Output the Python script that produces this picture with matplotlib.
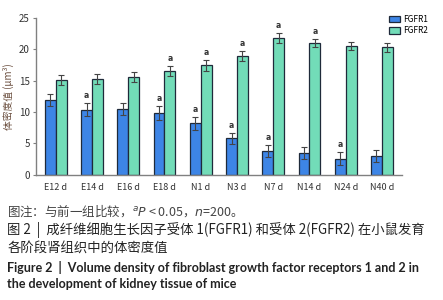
import numpy as np
import matplotlib.pyplot as plt

plt.rcParams['font.family'] = ['Noto Sans CJK SC', 'DejaVu Sans']

groups = ["E12 d", "E14 d", "E16 d", "E18 d", "N1 d", "N3 d", "N7 d", "N14 d", "N24 d", "N40 d"]
fgfr1 = [11.9, 10.4, 10.5, 9.8, 8.2, 5.8, 3.8, 3.5, 2.6, 3.0]
fgfr1_err = [1.0, 1.0, 1.0, 1.1, 1.0, 0.9, 0.9, 0.9, 1.0, 1.0]
fgfr2 = [15.1, 15.3, 15.6, 16.5, 17.4, 18.9, 21.8, 21.0, 20.5, 20.3]
fgfr2_err = [0.8, 0.8, 0.8, 0.8, 0.8, 0.8, 0.8, 0.6, 0.7, 0.7]
sig1 = [False, True, False, True, True, True, True, False, True, False]
sig2 = [False, False, False, True, True, True, True, True, False, False]

fig = plt.figure(figsize=(4.43, 3.0), dpi=100)
ax = fig.add_axes([0.081, 0.417, 0.826, 0.524])

x = np.arange(len(groups))
w = 0.3
ekw = dict(ecolor="#444444", elinewidth=0.8, capsize=2, capthick=0.8)
ax.bar(x - w / 2, fgfr1, w, yerr=fgfr1_err, color="#3d85e6", edgecolor="#1f2a3a",
       linewidth=0.9, label="FGFR1", error_kw=ekw)
ax.bar(x + w / 2, fgfr2, w, yerr=fgfr2_err, color="#72dcb8", edgecolor="#1f2a3a",
       linewidth=0.9, label="FGFR2", error_kw=ekw)

for i in range(len(groups)):
    if sig1[i]:
        ax.text(x[i] - w / 2, fgfr1[i] + fgfr1_err[i] + 0.5, "a", ha="center", va="bottom",
                fontsize=5.5, fontweight="bold", color="#333333", family="DejaVu Sans")
    if sig2[i]:
        ax.text(x[i] + w / 2, fgfr2[i] + fgfr2_err[i] + 0.5, "a", ha="center", va="bottom",
                fontsize=5.5, fontweight="bold", color="#333333", family="DejaVu Sans")

ax.set_xlim(-0.55, 9.55)
ax.set_ylim(0, 25)
ax.set_yticks([0, 5, 10, 15, 20, 25])
ax.set_xticks(x)
ax.set_xticklabels(groups)
ax.tick_params(axis="x", length=0, labelsize=6.5, colors="#333333", pad=6)
ax.tick_params(axis="y", length=2.5, width=0.8, labelsize=7, colors="#333333", pad=2, color="#808080")
for s in ["top", "right"]:
    ax.spines[s].set_visible(False)
for s in ["left", "bottom"]:
    ax.spines[s].set_color("#808080")
    ax.spines[s].set_linewidth(1.0)
ax.set_ylabel("体密度值 (μm³)", fontsize=7, color="#6b4f3f", labelpad=3)

ax.legend(loc="upper left", bbox_to_anchor=(0.955, 1.04), frameon=False, fontsize=6,
          handlelength=1.4, handleheight=0.8, handletextpad=0.3, labelspacing=0.3,
          borderaxespad=0)

fig.text(0.016, 0.298, "图注：与前一组比较，$^{a}P$ < 0.05，$n$=200。", fontsize=9, color="#444444",
         va="center")
fig.text(0.016, 0.235, "图 2  |  成纤维细胞生长因子受体 1(FGFR1) 和受体 2(FGFR2) 在小鼠发育",
         fontsize=9.6, color="#222222", va="center", fontweight="medium")
fig.text(0.016, 0.172, "各阶段肾组织中的体密度值", fontsize=9.6, color="#222222", va="center",
         fontweight="medium")
fig.text(0.016, 0.107, "Figure 2  |  Volume density of fibroblast growth factor receptors 1 and 2 in",
         fontsize=9, color="#222222", va="center", fontweight="bold", family="Lato")
fig.text(0.016, 0.052, "the development of kidney tissue of mice", fontsize=9, color="#222222",
         va="center", fontweight="bold", family="Lato")

fig.savefig("out.png", dpi=100)
